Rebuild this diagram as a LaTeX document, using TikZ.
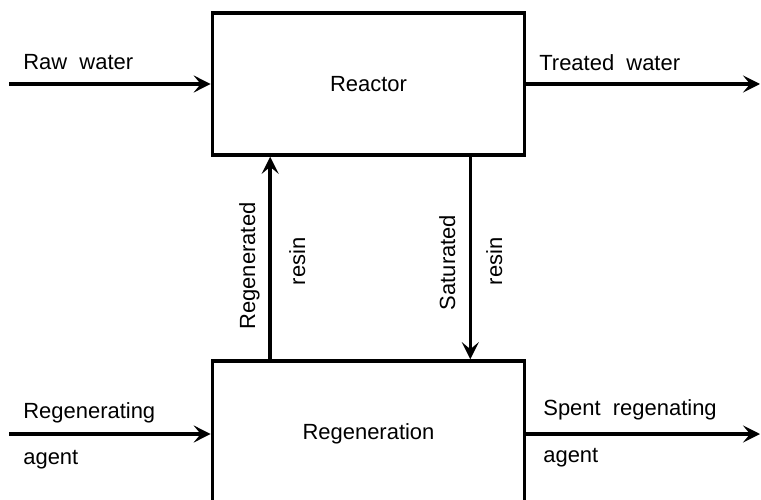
\documentclass[tikz,border=0pt]{standalone}
\usepackage{fontspec}
\setmainfont{Liberation Sans}
\usetikzlibrary{arrows.meta}

\begin{document}
\begin{tikzpicture}[x=0.02cm,y=-0.02cm,font=\fontsize{12.5}{15}\selectfont]
		\useasboundingbox (0,0) rectangle (761,500);
		\clip (0,0) rectangle (761,500);
		\begin{scope}[every node/.style={draw,line width=2.1pt,rectangle,minimum width=6.24cm}]
			\node[minimum height=2.84cm] (reactor) at (368.5,84) {Reactor};
			\node[minimum height=2.92cm] (regen) at (368.5,434) {Regeneration};
		\end{scope}
		\coordinate (rawin) at (9,84);
		\coordinate (treatedout) at (760,84);
		\coordinate (agentin) at (9,434);
		\coordinate (spentout) at (760,434);
		\begin{scope}[>={Stealth[length=0.34cm,width=0.34cm,inset=0.14cm]},
			every edge/.style={draw=black,line width=2pt}]
			\path [->] (rawin) edge (reactor.west);
			\path [->] (reactor.east) edge (treatedout);
			\path [->] (agentin) edge (regen.west);
			\path [->] (regen.east) edge (spentout);
			\path [->] ([xshift=1.19cm]regen.north west) edge ([xshift=1.19cm]reactor.south west);
			\path [->] ([xshift=-1.12cm]reactor.south east) edge ([xshift=-1.12cm]regen.north east);
		\end{scope}
		\begin{scope}[every node/.style={inner sep=0pt}]
			\node[anchor=base west] (rawlbl) at (23,70) {Raw~~water};
			\node[anchor=base west] (treatedlbl) at (539,71) {Treated~~water};
			\node[anchor=base west] (agentlbl) at (23,418) {Regenerating};
			\node[anchor=base west] (agentlblb) at (23,464) {agent};
			\node[anchor=base west] (spentlbl) at (543,415) {Spent~~regenating};
			\node[anchor=base west] (spentlblb) at (543,462) {agent};
			\node[anchor=base,rotate=90] (regenlbl) at (255,266) {Regenerated};
			\node[anchor=base,rotate=90] (regenlblb) at (305,261.5) {resin};
			\node[anchor=base,rotate=90] (satlbl) at (455,262.5) {Saturated};
			\node[anchor=base,rotate=90] (satlblb) at (502,261.5) {resin};
		\end{scope}
	\end{tikzpicture}
\end{document}
